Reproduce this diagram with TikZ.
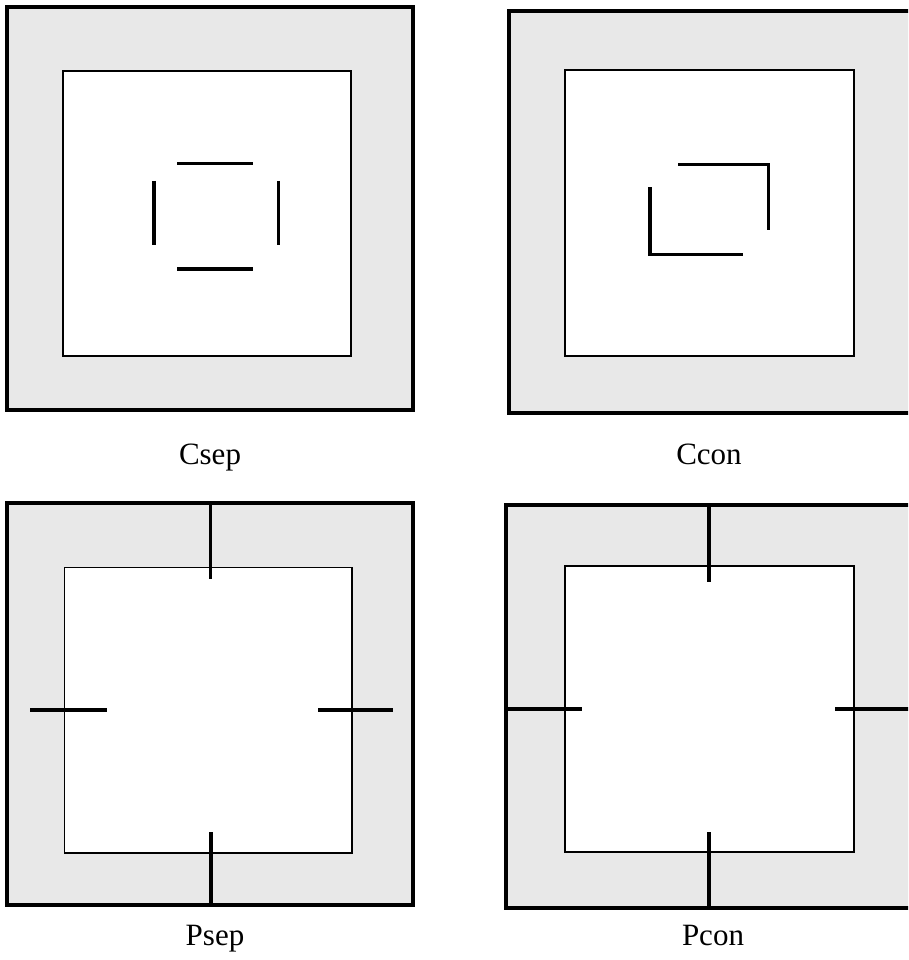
\documentclass[tikz,border=0pt]{standalone}
\usepackage{fontspec}
\setmainfont{Liberation Serif}
\definecolor{panelgray}{RGB}{232,232,232}
\begin{document}
\begin{tikzpicture}[x=1pt,y=-1pt,
  outerbox/.style={draw=black,line width=3.8pt,fill=panelgray},
  innerbox/.style={draw=black,line width=1.8pt,fill=white},
  wall/.style={draw=black,line width=3.8pt},
  lbl/.style={font=\fontsize{31}{37}\selectfont,anchor=base,inner sep=0pt}]
\useasboundingbox (0,0) rectangle (908,960);
\clip (0,0) rectangle (908,960);
% Panel 1: Csep
\draw[outerbox] (7,7) rectangle (413,410);
\draw[innerbox] (63,71) rectangle (351,356);
\draw[wall] (177,163.5) -- (253,163.5);
\draw[wall] (177,269) -- (253,269);
\draw[wall] (154,181) -- (154,245);
\draw[wall] (278.5,181) -- (278.5,245);
\node[lbl] (csep) at (210,464) {Csep};
% Panel 2: Ccon
\draw[outerbox] (509,11) rectangle (916,413);
\draw[innerbox] (565,70) rectangle (854,356);
\draw[wall] (678,164.5) -- (768.5,164.5) -- (768.5,230);
\draw[wall] (650,187) -- (650,254.5) -- (743,254.5);
\node[lbl] (ccon) at (709,464) {Ccon};
% Panel 3: Psep
\draw[outerbox] (7,503) rectangle (413,905);
\draw[innerbox] (64.5,567.5) rectangle (352,853);
\draw[wall] (210.5,503) -- (210.5,579);
\draw[wall] (211,832) -- (211,905);
\draw[wall] (30,710) -- (107,710);
\draw[wall] (318,710) -- (393,710);
\node[lbl] (psep) at (215,945) {Psep};
% Panel 4: Pcon
\draw[outerbox] (506,505) rectangle (916,908);
\draw[innerbox] (565,566) rectangle (854,852);
\draw[wall] (709,505) -- (709,582);
\draw[wall] (709,832) -- (709,908);
\draw[wall] (506,709) -- (582,709);
\draw[wall] (835,709) -- (916,709);
\node[lbl] (pcon) at (713,945) {Pcon};
\end{tikzpicture}
\end{document}
